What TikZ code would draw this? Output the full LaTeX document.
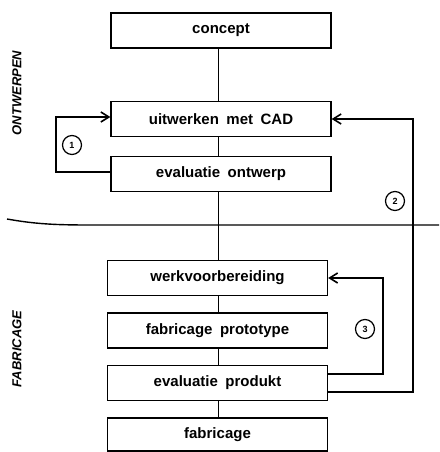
\documentclass[tikz,border=0pt]{standalone}
\usepackage{fontspec}
\setmainfont{Liberation Sans}
\newfontfamily\boxfont[WordSpace=1.8]{Liberation Sans}
\usetikzlibrary{arrows.meta,calc}
\begin{document}
\begin{tikzpicture}[x=1pt,y=-1pt,
  stage/.style={draw, line width=1.3pt, minimum width=220pt, minimum height=35pt,
    inner sep=0pt, font=\boxfont\bfseries\fontsize{15}{17}\selectfont},
  spine/.style={line width=0.9pt},
  feedback/.style={line width=1.9pt,
    -{Straight Barb[length=8pt,width=10pt,line width=1.6pt]}},
  tag/.style={draw, circle, line width=1.2pt, minimum size=19pt, inner sep=0pt,
    font=\bfseries\fontsize{9}{10}\selectfont},
  phase/.style={rotate=90, font=\bfseries\itshape\fontsize{13}{15}\selectfont}]

\useasboundingbox (0,0) rectangle (439,452);

% process steps
\node[stage] (concept) at (221,30.5) {concept};
\node[stage] (cad)     at (221,119)  {uitwerken met CAD};
\node[stage] (eo)      at (221,174)  {evaluatie ontwerp};
\node[stage] (wv)      at (217.5,278) {werkvoorbereiding};
\node[stage] (fp)      at (217.5,330.5) {fabricage prototype};
\node[stage] (ep)      at (217.5,383) {evaluatie produkt};
\node[stage, minimum height=33pt] (fab) at (217.5,434.5) {fabricage};

% main flow
\coordinate (sp) at (218,0);
\draw[spine] (concept.south -| sp) -- (cad.north -| sp);
\draw[spine] (cad.south -| sp) -- (eo.north -| sp);
\draw[spine] (eo.south -| sp) -- (wv.north -| sp);
\draw[spine] (wv.south -| sp) -- (fp.north -| sp);
\draw[spine] (fp.south -| sp) -- (ep.north -| sp);
\draw[spine] (ep.south -| sp) -- (fab.north -| sp);

% boundary between the two phases
\draw[line width=1.4pt] (7,219) .. controls (35,224) and (55,225) .. (90,225) -- (439,225);

% feedback loops
\draw[feedback] ([yshift=2pt]eo.west) -- ++(-54,0) |- ([yshift=2pt]cad.west);
\coordinate (r2) at (413,119);
\draw[feedback] ([yshift=-9pt]ep.east) -| (r2) -- (cad.east);
\coordinate (r3) at (383,278);
\draw[feedback] ([yshift=9pt]ep.east) -| (r3) -- (wv.east);

\node[tag] (t1) at (72,145) {1};
\node[tag] (t2) at (395,201) {2};
\node[tag] (t3) at (365,329) {3};

% phase labels
\node[phase] (ontw) at (17,93) {ONTWERPEN};
\node[phase] (fabr) at (17,349) {FABRICAGE};
\end{tikzpicture}
\end{document}
